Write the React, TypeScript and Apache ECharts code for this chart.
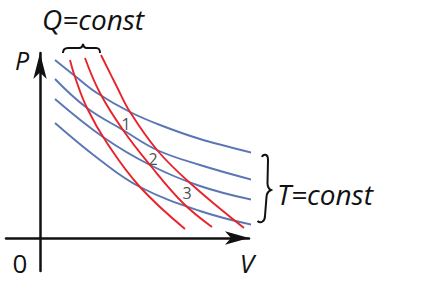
import React, { useEffect, useRef } from "react";
import * as echarts from "echarts";

// Isotherms (T = const), [V, P]
const isotherm1: number[][] = [[0.75, 8.9], [1.75, 8.1], [2.85, 7.25], [4.5, 6.3], [6.0, 5.65], [8.0, 4.95], [10.65, 4.25]];
const isotherm2: number[][] = [[0.75, 7.95], [2.35, 6.5], [4.15, 5.4], [5.85, 4.4], [8.0, 3.65], [10.65, 2.9]];
const isotherm3: number[][] = [[0.75, 6.95], [3.15, 5.05], [5.5, 3.65], [8.0, 2.6], [10.65, 1.9]];
const isotherm4: number[][] = [[0.75, 5.75], [3.0, 3.9], [5.0, 2.55], [8.0, 1.35], [10.65, 0.65]];

// Adiabats (Q = const)
const adiabat1: number[][] = [[1.5, 8.9], [1.75, 8.05], [2.35, 6.5], [3.35, 4.75], [5.0, 2.55], [7.25, 0.45]];
const adiabat2: number[][] = [[2.25, 9.0], [3.0, 7.25], [4.15, 5.4], [5.5, 3.65], [7.15, 1.75], [8.6, 0.55]];
const adiabat3: number[][] = [[3.05, 9.15], [3.85, 7.55], [4.5, 6.3], [5.85, 4.4], [7.5, 2.75], [10.2, 0.5]];

// Point labels
const pointNames = ["1", "2", "3"];
const pointV = [4.3, 5.65, 7.35];
const pointP = [5.7, 3.95, 2.25];

// Axis range
const vMin = -1.7;
const vMax = 10.45;
const pMin = -1.65;
const pMax = 9.25;

const BLUE = "#5a76b4";
const RED = "#e8242b";
const INK = "#111111";
const FONT = '"Open Sans", "Noto Sans", sans-serif';

echarts.graphic.registerShape(
  "qbrace",
  echarts.graphic.extendPath(
    "M63,53 C63,49 65,48 68,48 L79,48 C81,48 82.5,47 83,44 C83.5,47 85,48 87,48 L96,48 C99,48 100,49 100,53",
    {}
  )
);
echarts.graphic.registerShape(
  "tbrace",
  echarts.graphic.extendPath(
    "M262,157 C263,154 268,153 268,160 L267.5,183 C267.5,187 269,189 271,190 C269,191 266.5,193 266.5,197 L265,216 C265,221 261,224 257.5,221",
    {}
  )
);

export default function App() {
  const ref = useRef<HTMLDivElement>(null);

  useEffect(() => {
    if (!ref.current) return;
    const chart = echarts.init(ref.current, null, { renderer: "svg" });

    const lineSeries = (data: number[][], color: string) => ({
      type: "line",
      data,
      smooth: 0.4,
      showSymbol: false,
      silent: true,
      lineStyle: { color, width: 1.9 },
    });

    const txt = (text: string, x: number, y: number, size: number, align = "center", italic = true) => ({
      type: "text",
      x,
      y,
      style: {
        text,
        font: `${italic ? "italic " : ""}${size}px ${FONT}`,
        fill: INK,
        textAlign: align,
        textVerticalAlign: "middle",
      },
    });

    chart.setOption({
      animation: false,
      backgroundColor: "#ffffff",
      grid: { left: 6, right: 176, top: 53, bottom: 21, containLabel: false, outerBoundsMode: "none" },
      xAxis: {
        type: "value",
        min: vMin,
        max: vMax,
        axisLine: {
          onZero: true,
          symbol: ["none", "arrow"],
          symbolSize: [10, 24],
          lineStyle: { color: INK, width: 2.5 },
        },
        axisTick: { show: false },
        axisLabel: { show: false },
        splitLine: { show: false },
      },
      yAxis: {
        type: "value",
        min: pMin,
        max: pMax,
        axisLine: {
          onZero: true,
          symbol: ["none", "arrow"],
          symbolSize: [10, 26],
          lineStyle: { color: INK, width: 2.5 },
        },
        axisTick: { show: false },
        axisLabel: { show: false },
        splitLine: { show: false },
      },
      series: [
        lineSeries(isotherm1, BLUE),
        lineSeries(isotherm2, BLUE),
        lineSeries(isotherm3, BLUE),
        lineSeries(isotherm4, BLUE),
        lineSeries(adiabat1, RED),
        lineSeries(adiabat2, RED),
        lineSeries(adiabat3, RED),
        {
          type: "scatter",
          symbolSize: 0,
          silent: true,
          data: pointNames.map((n, i) => ({ value: [pointV[i], pointP[i]], name: n })),
          label: {
            show: true,
            position: "inside",
            formatter: (p: any) => p.name,
            fontFamily: FONT,
            fontSize: 16,
            color: "#1a1a1a",
          },
        },
      ],
      graphic: [
        txt("Q=const", 42, 19, 28, "left"),
        txt("P", 22, 60, 25),
        txt("V", 247, 263, 26),
        txt("0", 20, 263, 26, "center", false),
        txt("T=const", 277, 194, 28, "left"),
        { type: "qbrace", x: 0, y: 0, style: { fill: "none", stroke: INK, lineWidth: 2 } },
        { type: "tbrace", x: 0, y: 0, style: { fill: "none", stroke: INK, lineWidth: 2 } },
      ],
    });

    return () => chart.dispose();
  }, []);

  return (
    <div
      ref={ref}
      style={{ position: "fixed", left: 0, top: 0, width: 425, height: 292, background: "#fff" }}
    />
  );
}
